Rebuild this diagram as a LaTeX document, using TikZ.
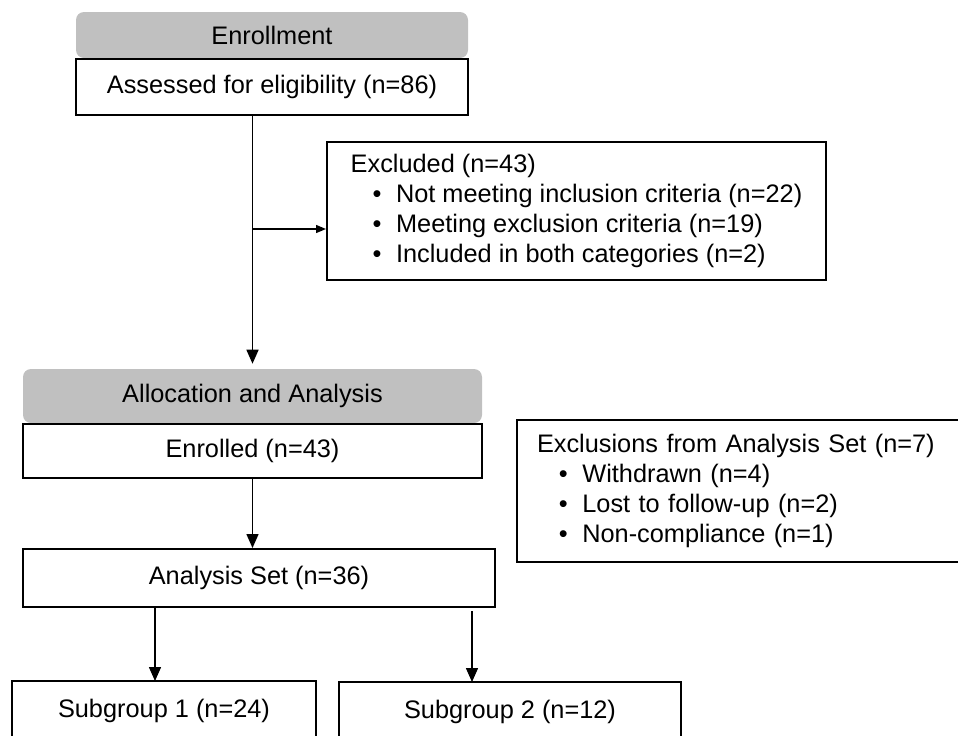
\documentclass[tikz,border=0pt]{standalone}
\usepackage{fontspec}
\setmainfont{Liberation Sans}
\usetikzlibrary{positioning,arrows.meta}
\definecolor{headgray}{RGB}{192,192,192}
\newcommand{\itm}{\hspace*{0.86em}\textbullet\hspace{0.58em}}

\begin{document}
\begin{tikzpicture}[x=0.75pt, y=-0.75pt,
  font=\fontsize{19}{22.3}\selectfont,
  head/.style={fill=headgray, rounded corners=6pt, inner sep=0pt},
  box/.style={draw, line width=1.5pt, rectangle, inner sep=0pt, align=center},
  listbox/.style={draw, line width=1.5pt, rectangle, align=left, inner ysep=0pt},
  arr/.style={-{Triangle[length=10.5pt,width=9pt]}, line width=1.1pt},
  harr/.style={-{Triangle[length=7.5pt,width=6pt]}, line width=1pt}]
\useasboundingbox (0,0) rectangle (958,736);

\node (headEnrol) [head, minimum width=294pt, minimum height=34.5pt] at (272,35) {Enrollment};
\node (assess) [box, minimum width=294pt, minimum height=42pt, below=0pt of headEnrol] {Assessed for eligibility (n=86)};
\node (excl) [listbox, minimum width=374.25pt, minimum height=103.5pt, anchor=west] at (326,211) {Excluded (n=43)\\ \itm Not meeting inclusion criteria (n=22)\\ \itm Meeting exclusion criteria (n=19)\\ \itm Included in both categories (n=2)};

\node (headAlloc) [head, minimum width=344.25pt, minimum height=40.5pt] at (252.5,396) {Allocation and Analysis};
\node (enrol) [box, minimum width=344.25pt, minimum height=40.5pt, below=0pt of headAlloc] {Enrolled (n=43)};
\node (exclAn) [listbox, text width=307.5pt, inner xsep=15pt, minimum height=106.5pt, anchor=west] at (516,491) {Exclusions from Analysis Set (n=7)\\ \itm Withdrawn (n=4)\\ \itm Lost to follow-up (n=2)\\ \itm Non-compliance (n=1)};
\node (anSet) [box, minimum width=354pt, minimum height=43.5pt] at (259,578) {Analysis Set (n=36)};
\node (sub1) [box, minimum width=228pt, minimum height=45pt] at (164,711) {Subgroup 1 (n=24)};
\node (sub2) [box, minimum width=256.5pt, minimum height=45pt] at (510,712) {Subgroup 2 (n=12)};

\coordinate (branch) at (252.5,229);
\coordinate (s1top) at (155,681);
\coordinate (s2top) at (472,682);

\draw[arr] (headAlloc.north |- assess.south) -- ([yshift=3.75pt]headAlloc.north);
\draw[harr] (branch) -- (branch -| excl.west);
\draw[arr] (enrol.south) -- (enrol.south |- anSet.north);
\draw[arr] (anSet.south -| s1top) -- (s1top);
\draw[arr] ([yshift=-2.25pt]anSet.south -| s2top) -- (s2top);
\end{tikzpicture}
\end{document}
